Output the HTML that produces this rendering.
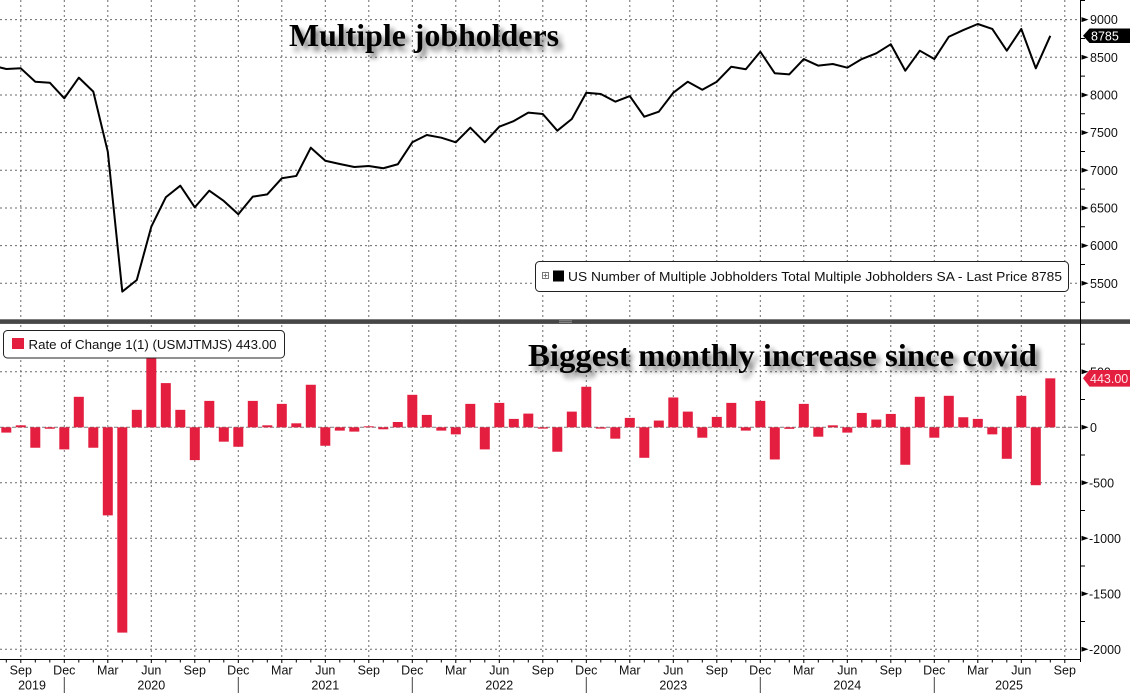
<!DOCTYPE html>
<html><head><meta charset="utf-8"><style>
html,body{margin:0;padding:0;background:#fff;}
svg{display:block;}
.ax{font-family:"Liberation Sans",Arial,sans-serif;font-size:12.5px;fill:#111;}
.g{stroke:#6a6a6a;stroke-width:1;stroke-dasharray:2,3;fill:none;}
</style></head><body>
<svg width="1130" height="693" viewBox="0 0 1130 693" xmlns="http://www.w3.org/2000/svg">
<defs>
<filter id="sh" x="-5%" y="-30%" width="115%" height="170%">
<feGaussianBlur in="SourceAlpha" stdDeviation="2.6"/>
<feOffset dx="4" dy="5" result="b"/>
<feComponentTransfer><feFuncA type="linear" slope="0.55"/></feComponentTransfer>
<feMerge><feMergeNode/><feMergeNode in="SourceGraphic"/></feMerge>
</filter>
</defs>
<rect width="1130" height="693" fill="#fff"/>

<!-- vertical gridlines -->
<g class="g">
<path d="M20.8 0V659 M64.3 0V659 M107.8 0V659 M151.3 0V659 M194.8 0V659 M238.3 0V659 M281.8 0V659 M325.3 0V659 M368.8 0V659 M412.3 0V659 M455.8 0V659 M499.3 0V659 M542.8 0V659 M586.3 0V659 M629.8 0V659 M673.3 0V659 M716.8 0V659 M760.3 0V659 M803.8 0V659 M847.3 0V659 M890.8 0V659 M934.3 0V659 M977.8 0V659 M1021.3 0V659 M1064.8 0V659"/>
<!-- horizontal top -->
<path d="M0 19.6H1080 M0 57.3H1080 M0 95H1080 M0 132.6H1080 M0 170.3H1080 M0 208H1080 M0 245.6H1080 M0 283.3H1080"/>
<!-- horizontal bottom -->
<path d="M0 371.8H1080 M0 482.8H1080 M0 538.3H1080 M0 593.8H1080 M0 649.3H1080"/>
</g>
<!-- zero line -->
<path d="M0 427.3H1080" stroke="#7a7a7a" stroke-width="1" stroke-dasharray="4,2"/>

<!-- bars -->
<g fill="#e41e3f" transform="translate(0.3,0)">
<rect x="1" y="427.3" width="10" height="5.3"/>
<rect x="15.5" y="425.3" width="10" height="2"/>
<rect x="30" y="427.3" width="10" height="20.44"/>
<rect x="44.5" y="427.3" width="10" height="1.44"/>
<rect x="59" y="427.3" width="10" height="22.1"/>
<rect x="73.5" y="396.8" width="10" height="30.5"/>
<rect x="88" y="427.3" width="10" height="20.44"/>
<rect x="102.5" y="427.3" width="10" height="88.07"/>
<rect x="117" y="427.3" width="10" height="205.31"/>
<rect x="131.5" y="409.84" width="10" height="17.46"/>
<rect x="146" y="349.18" width="10" height="78.12"/>
<rect x="160.5" y="383.1" width="10" height="44.2"/>
<rect x="175" y="409.84" width="10" height="17.46"/>
<rect x="189.5" y="427.3" width="10" height="32.82"/>
<rect x="204" y="400.89" width="10" height="26.41"/>
<rect x="218.5" y="427.3" width="10" height="14.37"/>
<rect x="233" y="427.3" width="10" height="19.45"/>
<rect x="247.5" y="400.89" width="10" height="26.41"/>
<rect x="262" y="425.31" width="10" height="1.99"/>
<rect x="276.5" y="403.87" width="10" height="23.43"/>
<rect x="291" y="423.32" width="10" height="3.98"/>
<rect x="305.5" y="384.76" width="10" height="42.54"/>
<rect x="320" y="427.3" width="10" height="18.45"/>
<rect x="334.5" y="427.3" width="10" height="3.32"/>
<rect x="349" y="427.3" width="10" height="4.31"/>
<rect x="363.5" y="426.3" width="10" height="1"/>
<rect x="378" y="427.3" width="10" height="1.99"/>
<rect x="392.5" y="422" width="10" height="5.3"/>
<rect x="407" y="394.81" width="10" height="32.49"/>
<rect x="421.5" y="414.92" width="10" height="12.38"/>
<rect x="436" y="427.3" width="10" height="3.32"/>
<rect x="450.5" y="427.3" width="10" height="7.07"/>
<rect x="465" y="403.87" width="10" height="23.43"/>
<rect x="479.5" y="427.3" width="10" height="22.1"/>
<rect x="494" y="402.88" width="10" height="24.42"/>
<rect x="508.5" y="418.9" width="10" height="8.4"/>
<rect x="523" y="413.6" width="10" height="13.7"/>
<rect x="537.5" y="427.3" width="10" height="1.33"/>
<rect x="552" y="427.3" width="10" height="24.42"/>
<rect x="566.5" y="411.61" width="10" height="15.69"/>
<rect x="581" y="386.75" width="10" height="40.55"/>
<rect x="595.5" y="427.3" width="10" height="1.33"/>
<rect x="610" y="427.3" width="10" height="11.38"/>
<rect x="624.5" y="417.91" width="10" height="9.39"/>
<rect x="639" y="427.3" width="10" height="30.5"/>
<rect x="653.5" y="420.56" width="10" height="6.74"/>
<rect x="668" y="397.46" width="10" height="29.84"/>
<rect x="682.5" y="411.61" width="10" height="15.69"/>
<rect x="697" y="427.3" width="10" height="10.39"/>
<rect x="711.5" y="416.91" width="10" height="10.39"/>
<rect x="726" y="402.88" width="10" height="24.42"/>
<rect x="740.5" y="427.3" width="10" height="3.32"/>
<rect x="755" y="400.89" width="10" height="26.41"/>
<rect x="769.5" y="427.3" width="10" height="32.16"/>
<rect x="784" y="427.3" width="10" height="1.55"/>
<rect x="798.5" y="403.87" width="10" height="23.43"/>
<rect x="813" y="427.3" width="10" height="9.39"/>
<rect x="827.5" y="425.31" width="10" height="1.99"/>
<rect x="842" y="427.3" width="10" height="5.3"/>
<rect x="856.5" y="412.93" width="10" height="14.37"/>
<rect x="871" y="419.56" width="10" height="7.74"/>
<rect x="885.5" y="413.93" width="10" height="13.37"/>
<rect x="900" y="427.3" width="10" height="37.46"/>
<rect x="914.5" y="396.8" width="10" height="30.5"/>
<rect x="929" y="427.3" width="10" height="10.39"/>
<rect x="943.5" y="395.81" width="10" height="31.49"/>
<rect x="958" y="417.24" width="10" height="10.06"/>
<rect x="972.5" y="418.9" width="10" height="8.4"/>
<rect x="987" y="427.3" width="10" height="7.07"/>
<rect x="1001.5" y="427.3" width="10" height="31.49"/>
<rect x="1016" y="395.81" width="10" height="31.49"/>
<rect x="1030.5" y="427.3" width="10" height="57.9"/>
<rect x="1045" y="378.35" width="10" height="48.95"/>
</g>

<!-- line series -->
<polyline fill="none" stroke="#000" stroke-width="2" stroke-linejoin="round" points="-8.2,65.36 6.3,68.98 20.8,68.3 35.3,81.71 49.8,82.69 64.3,98.28 78.8,77.64 93.3,91.65 107.8,151.69 122.3,291.65 136.8,279.98 151.3,226.72 165.8,197.26 180.3,185.66 194.8,207.28 209.3,190.64 223.8,200.96 238.3,214.29 252.8,196.66 267.3,194.33 281.8,178.28 296.3,175.95 310.8,147.7 325.3,160.73 339.8,163.97 354.3,166.98 368.8,166 383.3,168.26 397.8,164.27 412.3,142.27 426.8,134.97 441.3,137.68 455.8,142.27 470.3,127.73 484.8,142.27 499.3,126.68 513.8,121.03 528.3,112.67 542.8,114.02 557.3,130.67 571.8,119 586.3,92.71 600.8,93.99 615.3,101.67 629.8,96.02 644.3,116.74 658.8,111.69 673.3,92.71 687.8,81.71 702.3,89.69 716.8,81.71 731.3,66.72 745.8,69.28 760.3,51.73 774.8,73.27 789.3,74.32 803.8,59.03 818.3,65.66 832.8,64 847.3,67.69 861.8,59.03 876.3,53.3 890.8,44.26 905.3,70.71 919.8,50.68 934.3,59.03 948.8,36.74 963.3,30.03 977.8,24 992.3,28.98 1006.8,50.68 1021.3,28.98 1035.8,68.3 1050.3,35.83"/>

<!-- top legend -->
<rect x="535.5" y="261.5" width="533" height="30" rx="4" ry="4" fill="#fff" stroke="#222" stroke-width="1"/>
<rect x="542.5" y="272.5" width="6" height="6" fill="#fff" stroke="#777" stroke-width="1"/>
<path d="M545.5 273.5V277.5M543.5 275.5H547.5" stroke="#777" stroke-width="1"/>
<rect x="553" y="270.5" width="11" height="11" fill="#000"/>
<text class="ax" x="568" y="281" textLength="494" lengthAdjust="spacingAndGlyphs" style="font-size:13px">US Number of Multiple Jobholders Total Multiple Jobholders SA - Last Price 8785</text>

<!-- separator -->
<rect x="0" y="319.3" width="1130" height="4.6" fill="#474747"/>
<path d="M559 320.8H572M559 322.4H572" stroke="#9a9a9a" stroke-width="0.8"/>

<!-- bottom legend -->
<rect x="3.5" y="330.5" width="281" height="27.5" rx="4" ry="4" fill="#fff" stroke="#222" stroke-width="1"/>
<rect x="12" y="338" width="12" height="11" fill="#e41e3f"/>
<text class="ax" x="28.5" y="348.8" textLength="248" lengthAdjust="spacingAndGlyphs" style="font-size:13px">Rate of Change 1(1) (USMJTMJS) 443.00</text>

<!-- titles -->
<text x="289" y="46" textLength="270" lengthAdjust="spacingAndGlyphs" filter="url(#sh)" style="font-family:'Liberation Serif',serif;font-weight:bold;font-size:32px;fill:#000">Multiple jobholders</text>
<text x="528" y="366" textLength="509" lengthAdjust="spacingAndGlyphs" filter="url(#sh)" style="font-family:'Liberation Serif',serif;font-weight:bold;font-size:32px;fill:#000">Biggest monthly increase since covid</text>

<!-- axes -->
<path d="M1080.5 0V662" stroke="#000" stroke-width="1"/>
<path d="M0 659.5H1081" stroke="#000" stroke-width="1"/>

<!-- right axis minor ticks -->
<path d="M1081 0.5H1085 M1081 38.5H1085 M1081 76.1H1085 M1081 113.8H1085 M1081 151.5H1085 M1081 189.1H1085 M1081 226.8H1085 M1081 264.5H1085 M1081 302.2H1085 M1081 344.1H1085 M1081 399.5H1085 M1081 455H1085 M1081 510.5H1085 M1081 566H1085 M1081 621.5H1085" stroke="#000" stroke-width="1"/>
<!-- right axis major triangles -->
<g fill="#000">
<polygon points="1081.5,17.1 1088.5,19.6 1081.5,22.1"/>
<polygon points="1081.5,54.8 1088.5,57.3 1081.5,59.8"/>
<polygon points="1081.5,92.5 1088.5,95 1081.5,97.5"/>
<polygon points="1081.5,130.1 1088.5,132.6 1081.5,135.1"/>
<polygon points="1081.5,167.8 1088.5,170.3 1081.5,172.8"/>
<polygon points="1081.5,205.5 1088.5,208 1081.5,210.5"/>
<polygon points="1081.5,243.1 1088.5,245.6 1081.5,248.1"/>
<polygon points="1081.5,280.8 1088.5,283.3 1081.5,285.8"/>
<polygon points="1081.5,369.3 1088.5,371.8 1081.5,374.3"/>
<polygon points="1081.5,424.8 1088.5,427.3 1081.5,429.8"/>
<polygon points="1081.5,480.3 1088.5,482.8 1081.5,485.3"/>
<polygon points="1081.5,535.8 1088.5,538.3 1081.5,540.8"/>
<polygon points="1081.5,591.3 1088.5,593.8 1081.5,596.3"/>
<polygon points="1081.5,646.8 1088.5,649.3 1081.5,651.8"/>
</g>
<g class="ax">
<text x="1090" y="24.1">9000</text>
<text x="1090" y="61.8">8500</text>
<text x="1090" y="99.5">8000</text>
<text x="1090" y="137.1">7500</text>
<text x="1090" y="174.8">7000</text>
<text x="1090" y="212.5">6500</text>
<text x="1090" y="250.1">6000</text>
<text x="1090" y="287.8">5500</text>
<text x="1090" y="376.3">500</text>
<text x="1090" y="431.8">0</text>
<text x="1089" y="487.3">-500</text>
<text x="1089" y="542.8">-1000</text>
<text x="1089" y="598.3">-1500</text>
<text x="1089" y="653.8">-2000</text>
</g>

<!-- last value tags -->
<polygon points="1083,35.8 1089.5,28.5 1130,28.5 1130,43 1089.5,43" fill="#000"/>
<text class="ax" x="1091" y="40.4" style="fill:#fff">8785</text>
<polygon points="1083,378.3 1089.5,370 1130,370 1130,386.6 1089.5,386.6" fill="#e41e3f"/>
<text class="ax" x="1090" y="382.9" style="fill:#ffe4e8">443.00</text>

<!-- x axis ticks -->
<path stroke="#000" stroke-width="1" d="M6.3 660V662.5 M20.8 660V663 M35.3 660V662.5 M49.8 660V662.5 M64.3 660V663 M78.8 660V662.5 M93.3 660V662.5 M107.8 660V663 M122.3 660V662.5 M136.8 660V662.5 M151.3 660V663 M165.8 660V662.5 M180.3 660V662.5 M194.8 660V663 M209.3 660V662.5 M223.8 660V662.5 M238.3 660V663 M252.8 660V662.5 M267.3 660V662.5 M281.8 660V663 M296.3 660V662.5 M310.8 660V662.5 M325.3 660V663 M339.8 660V662.5 M354.3 660V662.5 M368.8 660V663 M383.3 660V662.5 M397.8 660V662.5 M412.3 660V663 M426.8 660V662.5 M441.3 660V662.5 M455.8 660V663 M470.3 660V662.5 M484.8 660V662.5 M499.3 660V663 M513.8 660V662.5 M528.3 660V662.5 M542.8 660V663 M557.3 660V662.5 M571.8 660V662.5 M586.3 660V663 M600.8 660V662.5 M615.3 660V662.5 M629.8 660V663 M644.3 660V662.5 M658.8 660V662.5 M673.3 660V663 M687.8 660V662.5 M702.3 660V662.5 M716.8 660V663 M731.3 660V662.5 M745.8 660V662.5 M760.3 660V663 M774.8 660V662.5 M789.3 660V662.5 M803.8 660V663 M818.3 660V662.5 M832.8 660V662.5 M847.3 660V663 M861.8 660V662.5 M876.3 660V662.5 M890.8 660V663 M905.3 660V662.5 M919.8 660V662.5 M934.3 660V663 M948.8 660V662.5 M963.3 660V662.5 M977.8 660V663 M992.3 660V662.5 M1006.8 660V662.5 M1021.3 660V663 M1035.8 660V662.5 M1050.3 660V662.5 M1064.8 660V663"/>
<!-- year separators -->
<path stroke="#444" stroke-width="1" d="M64.3 677V693 M238.3 677V693 M412.3 677V693 M586.3 677V693 M760.3 677V693 M934.3 677V693"/>

<g class="ax" text-anchor="middle">
<text x="20.8" y="674.3">Sep</text>
<text x="64.3" y="674.3">Dec</text>
<text x="107.8" y="674.3">Mar</text>
<text x="151.3" y="674.3">Jun</text>
<text x="194.8" y="674.3">Sep</text>
<text x="238.3" y="674.3">Dec</text>
<text x="281.8" y="674.3">Mar</text>
<text x="325.3" y="674.3">Jun</text>
<text x="368.8" y="674.3">Sep</text>
<text x="412.3" y="674.3">Dec</text>
<text x="455.8" y="674.3">Mar</text>
<text x="499.3" y="674.3">Jun</text>
<text x="542.8" y="674.3">Sep</text>
<text x="586.3" y="674.3">Dec</text>
<text x="629.8" y="674.3">Mar</text>
<text x="673.3" y="674.3">Jun</text>
<text x="716.8" y="674.3">Sep</text>
<text x="760.3" y="674.3">Dec</text>
<text x="803.8" y="674.3">Mar</text>
<text x="847.3" y="674.3">Jun</text>
<text x="890.8" y="674.3">Sep</text>
<text x="934.3" y="674.3">Dec</text>
<text x="977.8" y="674.3">Mar</text>
<text x="1021.3" y="674.3">Jun</text>
<text x="1064.8" y="674.3">Sep</text>
<text x="32" y="689.5">2019</text>
<text x="151.3" y="689.5">2020</text>
<text x="325.3" y="689.5">2021</text>
<text x="499.3" y="689.5">2022</text>
<text x="673.3" y="689.5">2023</text>
<text x="847.3" y="689.5">2024</text>
<text x="1009" y="689.5">2025</text>
</g>
</svg>
</body></html>
